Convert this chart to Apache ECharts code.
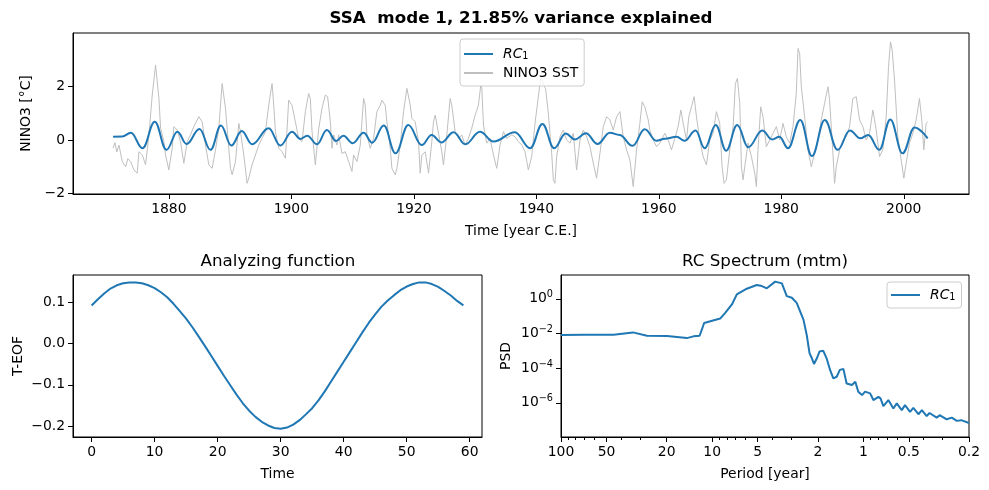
<!DOCTYPE html>
<html>
<head>
<meta charset="utf-8">
<script src="https://cdn.jsdelivr.net/npm/echarts@6.0.0/dist/echarts.min.js"></script>
<style>
  html, body { margin: 0; padding: 0; background: #fff; }
  #chart { width: 989px; height: 490px; }
</style>
</head>
<body>
<div id="chart"></div>
<script>
// ---- data ----
var rcYears = [1870.9, 1872.4, 1873.8, 1875.7, 1877.7, 1879.6, 1881.4, 1882.9, 1885.0, 1886.8, 1888.5, 1890.2, 1891.9, 1893.6, 1896.3, 1898.2, 1900.1, 1901.5, 1902.6, 1904.2, 1905.8, 1907.3, 1908.5, 1910.0, 1911.8, 1913.2, 1915.1, 1917.0, 1919.1, 1921.3, 1922.9, 1924.5, 1926.5, 1928.4, 1930.8, 1933.0, 1936.5, 1939.0, 1941.0, 1942.9, 1944.8, 1946.3, 1948.1, 1950.0, 1952.0, 1953.6, 1955.7, 1957.7, 1959.6, 1961.0, 1962.9, 1964.2, 1966.0, 1967.5, 1969.3, 1971.0, 1972.8, 1974.6, 1976.9, 1978.5, 1979.7, 1981.1, 1983.1, 1985.0, 1987.1, 1989.2, 1991.2, 1992.9, 1994.2, 1996.0, 1997.8, 1999.8, 2001.75, 2003.9];
var rcValues = [0.12, 0.13, 0.27, -0.31, 0.68, -0.37, 0.31, -0.15, 0.41, -0.37, 0.54, -0.21, 0.34, -0.16, 0.44, -0.21, 0.31, 0.04, 0.16, -0.16, 0.37, -0.04, 0.16, -0.12, 0.27, -0.1, 0.54, -0.5, 0.56, -0.19, 0.19, -0.09, 0.29, -0.16, 0.31, -0.06, 0.29, -0.31, 0.6, -0.31, 0.24, 0.02, 0.25, -0.15, 0.27, 0.19, -0.22, 0.4, -0.03, 0.05, 0.12, -0.03, 0.35, -0.31, 0.56, -0.4, 0.56, -0.27, 0.35, 0.02, 0.12, -0.31, 0.75, -0.6, 0.75, -0.37, 0.35, 0.06, 0.19, -0.37, 0.77, -0.5, 0.47, 0.06];

var sstYears = [1870.9, 1871.2, 1871.5, 1871.85, 1872.4, 1872.94, 1873.3, 1873.76, 1874.3, 1874.84, 1875.11, 1875.66, 1876.2, 1876.75, 1877.29, 1877.83, 1878.1, 1878.38, 1878.65, 1879.19, 1879.46, 1880.0, 1880.55, 1880.82, 1881.37, 1881.91, 1882.45, 1883.0, 1883.54, 1884.08, 1884.9, 1885.44, 1885.98, 1886.53, 1887.07, 1887.62, 1888.16, 1888.7, 1888.97, 1889.25, 1889.79, 1890.06, 1890.33, 1890.88, 1891.42, 1891.69, 1892.24, 1892.78, 1893.05, 1893.59, 1894.14, 1894.68, 1895.22, 1895.77, 1896.31, 1896.85, 1897.13, 1897.4, 1897.94, 1898.48, 1899.03, 1899.57, 1900.11, 1900.66, 1901.2, 1901.75, 1902.29, 1902.83, 1903.1, 1903.38, 1903.92, 1904.46, 1905.0, 1905.55, 1905.93, 1906.37, 1906.64, 1906.91, 1907.45, 1907.72, 1908.27, 1908.81, 1909.36, 1909.9, 1910.17, 1910.71, 1911.26, 1911.8, 1912.07, 1912.34, 1912.89, 1913.43, 1913.97, 1914.52, 1914.79, 1915.33, 1915.6, 1916.15, 1916.42, 1916.96, 1917.24, 1917.78, 1918.32, 1918.87, 1919.41, 1919.68, 1920.22, 1920.77, 1921.04, 1921.31, 1921.86, 1922.4, 1922.94, 1923.21, 1923.49, 1924.03, 1924.57, 1924.84, 1925.39, 1925.93, 1926.2, 1926.75, 1927.29, 1927.83, 1928.38, 1928.92, 1929.46, 1930.01, 1930.55, 1930.93, 1931.1, 1931.37, 1931.91, 1932.45, 1933.0, 1933.54, 1934.08, 1934.63, 1935.17, 1935.99, 1936.53, 1937.07, 1937.62, 1938.16, 1938.7, 1939.25, 1939.79, 1940.33, 1940.77, 1941.15, 1941.53, 1941.96, 1942.51, 1942.78, 1943.05, 1943.32, 1943.87, 1944.41, 1944.95, 1945.5, 1946.04, 1946.58, 1947.13, 1947.67, 1948.21, 1948.76, 1949.3, 1949.84, 1950.39, 1950.93, 1951.48, 1952.02, 1952.56, 1953.11, 1953.65, 1954.19, 1954.74, 1955.28, 1955.82, 1956.37, 1956.91, 1957.29, 1957.72, 1958.27, 1958.54, 1959.08, 1959.63, 1960.17, 1960.99, 1961.53, 1962.07, 1962.62, 1963.16, 1963.6, 1963.98, 1964.52, 1964.9, 1965.33, 1965.77, 1966.15, 1966.69, 1967.24, 1967.78, 1968.32, 1968.87, 1969.41, 1969.95, 1970.33, 1970.66, 1971.04, 1971.58, 1972.13, 1972.51, 1972.83, 1973.22, 1973.49, 1973.76, 1974.03, 1974.57, 1975.12, 1975.66, 1975.93, 1976.2, 1976.64, 1977.02, 1977.56, 1978.11, 1978.65, 1979.19, 1979.74, 1980.28, 1980.82, 1981.37, 1981.91, 1982.45, 1982.73, 1983.0, 1983.27, 1983.81, 1984.36, 1984.9, 1985.44, 1985.99, 1986.53, 1987.07, 1987.62, 1987.89, 1988.43, 1988.7, 1988.98, 1989.52, 1990.06, 1990.61, 1991.15, 1991.69, 1992.24, 1992.78, 1993.32, 1993.87, 1994.41, 1994.95, 1995.5, 1996.04, 1996.58, 1997.13, 1997.51, 1997.83, 1998.11, 1998.49, 1999.03, 1999.58, 2000.01, 2000.39, 2000.93, 2001.48, 2002.02, 2002.56, 2002.94, 2003.27, 2003.65, 2003.92];
var sstValues = [-0.3, -0.1, -0.45, -0.19, -0.81, -1.0, -0.7, -0.81, -1.12, -1.24, -0.44, -0.56, -0.93, 0.19, 1.68, 2.8, 2.74, 1.55, 0.44, -0.06, -0.56, -1.12, -0.31, 0.5, 0.37, -0.06, -0.87, -0.06, 0.19, 0.5, 0.87, 0.68, -0.19, -0.93, -1.06, -0.37, 0.44, 2.11, 2.15, 1.18, -0.31, -1.06, -1.3, -0.81, 0.62, 0.31, -0.56, -1.62, -1.43, -0.93, -0.56, -0.19, 0.06, 0.31, 1.3, 2.11, 1.3, 0.31, -0.31, -0.44, -0.68, 1.49, 1.3, 0.68, 0.06, -0.06, 1.06, 1.74, 1.55, 0.31, -0.93, 0.4, 1.18, 1.68, 1.62, 0.68, -0.31, 0.19, -0.19, 0.19, -0.5, -0.44, -0.81, -1.18, -0.56, -0.81, -0.19, 1.55, 1.3, 0.19, -0.31, 0.06, 1.06, 1.3, 1.49, 1.3, 0.68, -0.31, -1.06, -1.3, -1.06, -0.19, 1.06, 1.93, 1.3, 0.81, 0.68, -0.06, -1.24, -0.56, -0.44, -1.24, -0.06, 0.68, 0.93, 0.25, -0.44, -0.93, 0.19, 1.55, 1.3, 0.31, 0.06, 0.19, -0.19, 0.06, 0.44, 0.93, 1.3, 2.05, 1.93, 0.56, -0.12, 0.06, -0.56, -1.06, -0.19, 0.31, 0.06, 0.19, 0.12, -0.06, -0.19, -0.44, -1.12, -0.62, 0.62, 1.62, 2.4, 2.11, 1.9, 1.0, -0.5, -1.49, -1.62, -0.62, 0.12, 0.37, 0.0, -0.12, 0.25, -1.12, 0.0, 0.37, 0.12, -0.25, -0.87, -1.43, -0.5, 0.5, 0.87, 0.75, 0.37, 0.87, 1.06, 0.12, -0.37, -0.75, -1.74, -0.37, 0.62, 1.43, 1.24, 0.75, 0.37, 0.0, -0.25, -0.12, 0.25, 0.0, -0.37, 0.06, 0.5, 1.12, 0.62, 0.0, 0.87, 1.24, 1.62, 0.87, 0.0, -0.62, -0.93, 0.0, 0.25, 1.06, 0.62, -1.0, -1.62, -1.49, -0.37, 0.5, 2.11, 2.3, 1.37, -1.0, -1.49, -1.0, -0.12, -0.62, -1.24, -1.74, -0.37, 1.24, 0.87, -0.25, 0.0, 0.25, 0.5, 0.0, 0.62, 0.12, -0.12, 0.5, 1.74, 3.42, 3.23, 1.99, 0.87, -0.37, -1.0, -0.5, 0.0, 0.75, 1.37, 1.99, 1.49, -0.5, -1.62, -1.0, -0.37, 0.0, 0.12, 0.5, 1.55, 1.62, 0.75, 0.5, 0.0, 0.25, 1.12, 0.37, -0.62, -0.37, 0.87, 2.74, 3.67, 3.36, 2.24, 0.12, -0.75, -1.43, -0.87, -0.12, 0.25, 0.75, 1.55, 0.75, -0.37, 0.62, 0.68];

// T-EOF, one value per time step 0..59
var teofValues = [0.093, 0.108, 0.122, 0.134, 0.142, 0.147, 0.149, 0.149, 0.147, 0.142, 0.135, 0.125, 0.113, 0.097, 0.079, 0.061, 0.040, 0.017, -0.006, -0.030, -0.054, -0.078, -0.101, -0.124, -0.145, -0.163, -0.178, -0.190, -0.199, -0.205, -0.207, -0.204, -0.197, -0.186, -0.172, -0.157, -0.138, -0.116, -0.092, -0.068, -0.044, -0.020, 0.004, 0.028, 0.051, 0.071, 0.090, 0.105, 0.118, 0.130, 0.139, 0.145, 0.149, 0.149, 0.145, 0.138, 0.128, 0.117, 0.104, 0.093];

var specPeriods = [100, 70, 44.9, 33.4, 27, 19.9, 14.7, 13.3, 12.1, 11.3, 8.85, 8.2, 7.4, 6.87, 5.9, 5.07, 4.69, 4.35, 3.83, 3.46, 3.21, 2.97, 2.76, 2.49, 2.37, 2.27, 2.19, 2.12, 2.03, 1.95, 1.84, 1.75, 1.66, 1.58, 1.5, 1.43, 1.355, 1.29, 1.19, 1.13, 1.08, 1.02, 0.974, 0.902, 0.858, 0.795, 0.77, 0.737, 0.683, 0.633, 0.601, 0.557, 0.53, 0.491, 0.467, 0.432, 0.41, 0.381, 0.365, 0.327, 0.313, 0.281, 0.26, 0.241, 0.225, 0.2];
var specPsd = [8.1e-3, 8.3e-3, 8.5e-3, 1.15e-2, 7.4e-3, 7.1e-3, 5.4e-3, 6.8e-3, 7.4e-3, 4.0e-2, 7.2e-2, 0.155, 0.47, 1.78, 3.8, 6.2, 5.4, 4.0, 9.7, 7.7, 1.42, 1.14, 0.58, 0.063, 8.5e-3, 7.3e-4, 3.7e-4, 1.75e-4, 3.7e-4, 9.1e-4, 1.0e-3, 3.7e-4, 7.9e-5, 2.6e-5, 3.2e-5, 7.9e-5, 9.1e-5, 1.3e-5, 1.07e-5, 1.66e-5, 4.4e-6, 2.8e-6, 4.4e-6, 3.5e-6, 1.45e-6, 2.2e-6, 1.8e-6, 6.5e-7, 1.45e-6, 4.7e-7, 9.3e-7, 3.8e-7, 7.4e-7, 3.0e-7, 5.1e-7, 2.2e-7, 3.8e-7, 1.7e-7, 2.6e-7, 1.4e-7, 1.95e-7, 1.12e-7, 1.4e-7, 9.1e-8, 1.0e-7, 6.9e-8];

// tick labels
var yearTicks = [1880, 1900, 1920, 1940, 1960, 1980, 2000];
var ninoTicks = [-2, 0, 2];
var timeTicks = [0, 10, 20, 30, 40, 50, 60];
var teofTicks = [-0.2, -0.1, 0, 0.1];
var periodTicks = [100, 50, 20, 10, 5, 2, 1, 0.5, 0.2];
var periodMinor = [90, 80, 70, 60, 40, 30, 9, 8, 7, 6, 4, 3, 0.9, 0.8, 0.7, 0.6, 0.4, 0.3];
var psdTicks = [1e-6, 1e-4, 1e-2, 1];

// ---- chart ----
var FONT = "DejaVu Sans";
var FS = 13.9;
var BLUE = "#1f77b4";
var GRAY = "#bfbfbf";

function zip(xs, ys) {
  var out = [];
  for (var i = 0; i < Math.min(xs.length, ys.length); i++) out.push([xs[i], ys[i]]);
  return out;
}
function minusFmt(digits) {
  return function (v) {
    var s = Math.abs(v).toFixed(digits);
    return (v < 0 ? "\u2212" : "") + s;
  };
}

var sup = { fontFamily: FONT, fontSize: 9.7, color: "#000", verticalAlign: "top", lineHeight: 10 };
var sub = { fontFamily: FONT, fontSize: 9.7, color: "#000", verticalAlign: "bottom", lineHeight: 10 };

function axisBase(grid, ticks, fmt) {
  return {
    gridIndex: grid,
    type: "value",
    axisLine: { show: true, onZero: false, lineStyle: { color: "#000", width: 1 } },
    axisTick: { show: true, length: 5, customValues: ticks, lineStyle: { color: "#000", width: 1 } },
    axisLabel: {
      show: true, customValues: ticks, margin: 8,
      fontFamily: FONT, fontSize: FS, color: "#000",
      formatter: fmt,
    },
    splitLine: { show: false },
    nameTextStyle: { fontFamily: FONT, fontSize: FS, color: "#000" },
    nameLocation: "middle",
  };
}

var chart = echarts.init(document.getElementById("chart"));

var xTop = axisBase(0, yearTicks, function (v) { return String(v); });
xTop.min = 1864.35; xTop.max = 2010.65;
xTop.name = "Time [year C.E.]"; xTop.nameGap = 30;

var yTop = axisBase(0, ninoTicks, minusFmt(0));
yTop.min = -2.02; yTop.max = 4.0;
yTop.name = "NINO3 [\u00b0C]"; yTop.nameGap = 32;

var xLeft = axisBase(1, timeTicks, function (v) { return String(v); });
xLeft.min = -2.95; xLeft.max = 61.95;
xLeft.name = "Time"; xLeft.nameGap = 30;

var yLeft = axisBase(1, teofTicks, minusFmt(1));
yLeft.min = -0.227; yLeft.max = 0.167;
yLeft.name = "T-EOF"; yLeft.nameGap = 48;

var xSpec = axisBase(2, periodTicks, function (v) { return String(Number(v.toPrecision(3))); });
xSpec.type = "log"; xSpec.inverse = true; xSpec.min = 0.2; xSpec.max = 100;
xSpec.name = "Period [year]"; xSpec.nameGap = 30; xSpec.position = "bottom";

// second axis on the same grid, only for the short minor ticks
var xSpecMinor = axisBase(2, periodMinor, function () { return ""; });
xSpecMinor.type = "log"; xSpecMinor.inverse = true; xSpecMinor.min = 0.2; xSpecMinor.max = 100;
xSpecMinor.position = "bottom";
xSpecMinor.axisLine.show = false;
xSpecMinor.axisLabel.show = false;
xSpecMinor.axisTick.length = 3;

var ySpec = axisBase(2, psdTicks, function (v) {
  var e = Math.round(Math.log10(v));
  return "{b|10}{s|" + (e < 0 ? "\u2212" + (-e) : e) + "}";
});
ySpec.type = "log"; ySpec.min = Math.pow(10, -7.97); ySpec.max = Math.pow(10, 1.37);
ySpec.axisLabel.rich = { b: { fontFamily: FONT, fontSize: FS, color: "#000", lineHeight: 18 }, s: sup };
ySpec.name = "PSD"; ySpec.nameGap = 48;

var legendBase = {
  orient: "vertical",
  icon: "rect",
  itemWidth: 29,
  itemHeight: 2,
  itemGap: 5,
  padding: [8, 6, 6, 4],
  borderColor: "#cccccc",
  borderWidth: 1,
  borderRadius: 3,
  backgroundColor: "rgba(255,255,255,0.8)",
  textStyle: {
    fontFamily: FONT, fontSize: FS, color: "#000", padding: [0, 0, 0, 5],
    rich: { i: { fontFamily: FONT, fontSize: FS, fontStyle: "italic", color: "#000" }, s: sub },
  },
  formatter: function (name) {
    return name.indexOf("RC1") === 0 ? "{i|RC}{s|1}" : name;
  },
};

var option = {
  animation: false,
  backgroundColor: "#fff",
  title: [
    { text: "SSA  mode 1, 21.85% variance explained", left: 521, top: 10, textAlign: "center", padding: 0,
      textStyle: { fontFamily: FONT, fontSize: 16.7, fontWeight: "bold", color: "#000" } },
    { text: "Analyzing function", left: 278, top: 253, textAlign: "center", padding: 0,
      textStyle: { fontFamily: FONT, fontSize: 16.7, fontWeight: "normal", color: "#000" } },
    { text: "RC Spectrum (mtm)", left: 765, top: 253, textAlign: "center", padding: 0,
      textStyle: { fontFamily: FONT, fontSize: 16.7, fontWeight: "normal", color: "#000" } },
  ],
  legend: [
    Object.assign({}, legendBase, { data: ["RC1", "NINO3 SST"], left: 460, top: 39 }),
    Object.assign({}, legendBase, { data: ["RC1 spectrum"], left: 887, top: 282, padding: [6, 6, 6, 4] }),
  ],
  grid: [
    { left: 73, top: 33, width: 896, height: 161, show: true, borderColor: "#000", borderWidth: 1, outerBoundsMode: "none" },
    { left: 73, top: 275, width: 409, height: 162, show: true, borderColor: "#000", borderWidth: 1, outerBoundsMode: "none" },
    { left: 561, top: 275, width: 408, height: 162, show: true, borderColor: "#000", borderWidth: 1, outerBoundsMode: "none" },
  ],
  xAxis: [xTop, xLeft, xSpec, xSpecMinor],
  yAxis: [yTop, yLeft, ySpec],
  series: [
    {
      name: "RC1", type: "line", xAxisIndex: 0, yAxisIndex: 0,
      data: zip(rcYears, rcValues), symbol: "none",
      smooth: 0.4, smoothMonotone: "x",
      color: BLUE, lineStyle: { color: BLUE, width: 2 }, z: 3,
    },
    {
      name: "NINO3 SST", type: "line", xAxisIndex: 0, yAxisIndex: 0,
      data: zip(sstYears, sstValues), symbol: "none",
      color: GRAY, lineStyle: { color: GRAY, width: 1 }, z: 2,
    },
    {
      name: "T-EOF", type: "line", xAxisIndex: 1, yAxisIndex: 1,
      data: teofValues.map(function (v, i) { return [i, v]; }), symbol: "none",
      color: BLUE, lineStyle: { color: BLUE, width: 2 },
    },
    {
      name: "RC1 spectrum", type: "line", xAxisIndex: 2, yAxisIndex: 2,
      data: zip(specPeriods, specPsd), symbol: "none",
      color: BLUE, lineStyle: { color: BLUE, width: 2 },
    },
  ],
};

chart.setOption(option);
</script>
</body>
</html>
